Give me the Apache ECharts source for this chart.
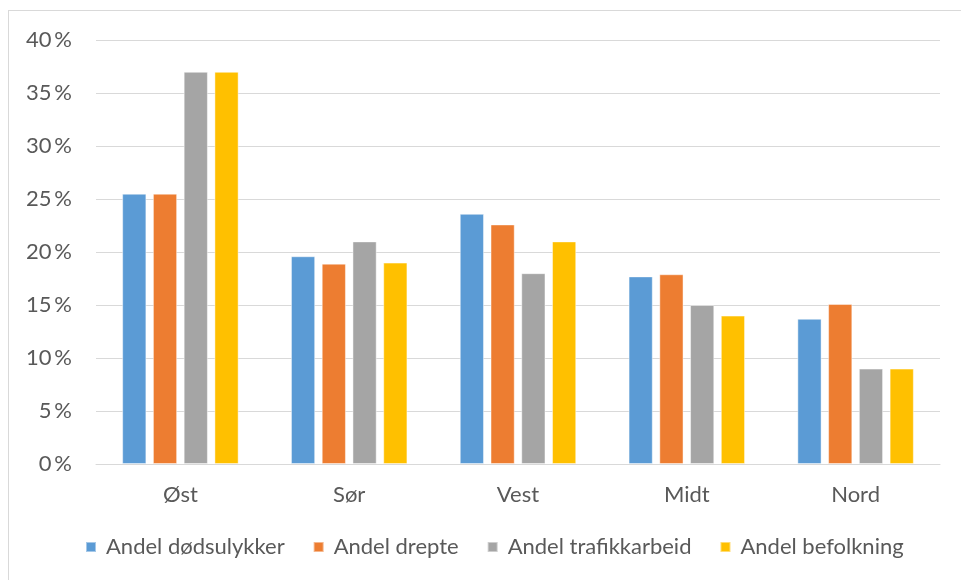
<!DOCTYPE html>
<html>
<head>
<meta charset="utf-8">
<script src="https://cdn.jsdelivr.net/npm/echarts@6/dist/echarts.min.js"></script>
<style>
html,body{margin:0;padding:0;width:961px;height:580px;overflow:hidden;background:#fff;}
#frame{position:absolute;left:8px;top:10px;width:980px;height:600px;border:1.5px solid #d9d9d9;box-sizing:border-box;}
#chart{position:absolute;left:0;top:0;width:961px;height:580px;}
</style>
</head>
<body>
<div id="frame"></div>
<div id="chart"></div>
<script>
const categories = ['Øst', 'Sør', 'Vest', 'Midt', 'Nord'];
const seriesNames = ['Andel dødsulykker', 'Andel drepte', 'Andel trafikkarbeid', 'Andel befolkning'];
const dodsulykker = [25.5, 19.6, 23.6, 17.7, 13.7];
const drepte = [25.5, 18.9, 22.6, 17.9, 15.1];
const trafikkarbeid = [37.0, 21.0, 18.0, 15.0, 9.0];
const befolkning = [37.0, 19.0, 21.0, 14.0, 9.0];
const yTicks = [0, 5, 10, 15, 20, 25, 30, 35, 40];

const colors = ['#5B9BD5', '#ED7D31', '#A5A5A5', '#FFC000'];
const values = [dodsulykker, drepte, trafikkarbeid, befolkning];
const font = "Lato, 'Liberation Sans', sans-serif";

const chart = echarts.init(document.getElementById('chart'));
chart.setOption({
  animation: false,
  color: colors,
  grid: { left: 96, right: 21, top: 40, bottom: 116, containLabel: false },
  legend: {
    bottom: 17,
    left: 80,
    itemWidth: 10,
    itemHeight: 10,
    itemGap: 28,
    icon: 'rect',
    textStyle: { color: '#595959', fontSize: 22, fontFamily: font, padding: [0, 0, 0, 5] },
    data: seriesNames
  },
  xAxis: {
    type: 'category',
    data: categories,
    axisLine: { lineStyle: { color: '#d9d9d9', width: 1 } },
    axisTick: { show: false },
    axisLabel: { color: '#595959', fontSize: 22, fontFamily: font, margin: 20 }
  },
  yAxis: {
    type: 'value',
    min: yTicks[0],
    max: yTicks[yTicks.length - 1],
    interval: 5,
    axisLine: { show: false },
    axisTick: { show: false },
    splitLine: { lineStyle: { color: '#d9d9d9', width: 1 } },
    axisLabel: { color: '#595959', fontSize: 22, fontFamily: font, margin: 24, formatter: '{value}\u2009%' }
  },
  series: seriesNames.map((n, i) => ({
    name: n,
    type: 'bar',
    data: values[i],
    barGap: '27%',
    barCategoryGap: '31%',
    itemStyle: { color: colors[i], borderColor: 'rgba(255,255,255,0.45)', borderWidth: 1 }
  }))
});
</script>
</body>
</html>
